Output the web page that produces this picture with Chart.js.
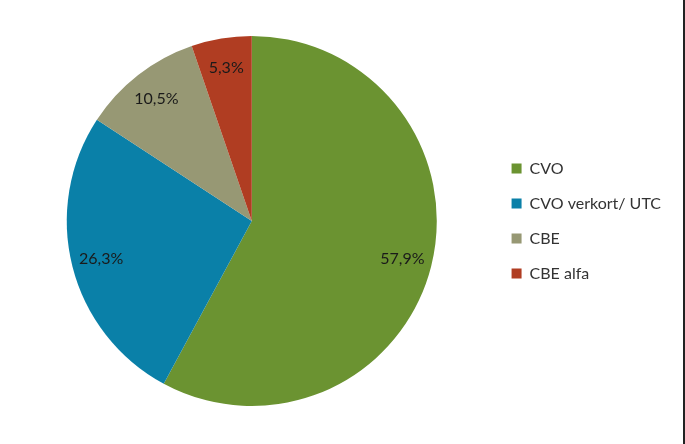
<!DOCTYPE html>
<html>
<head>
<meta charset="utf-8">
<script src="https://cdn.jsdelivr.net/npm/chart.js@4"></script>
<style>
  html, body { margin: 0; padding: 0; background: #fff; }
  #wrap { width: 685px; height: 444px; box-sizing: border-box; border-right: 2px solid #222; }
</style>
</head>
<body>
<div id="wrap"><canvas id="pie" width="683" height="444"></canvas></div>
<script>
// categories and values (counts out of 19)
const categories = ["CVO", "CVO verkort/ UTC", "CBE", "CBE alfa"];
const counts = [11, 5, 2, 1];
const colours = ["#6b9331", "#0a80a8", "#979874", "#b03d22"];

const total = counts.reduce((a, b) => a + b, 0);

// percentage labels inside each slice
const sliceLabels = {
  id: "sliceLabels",
  afterDatasetsDraw(chart) {
    const ctx = chart.ctx;
    const meta = chart.getDatasetMeta(0);
    ctx.save();
    ctx.font = "16px Lato";
    ctx.fillStyle = "#1a1a1a";
    ctx.textAlign = "center";
    ctx.textBaseline = "middle";
    meta.data.forEach((arc, i) => {
      const p = arc.getProps(["x", "y", "startAngle", "endAngle", "outerRadius"], true);
      const mid = (p.startAngle + p.endAngle) / 2;
      const r = p.outerRadius * 0.84;
      const txt = (counts[i] / total * 100).toFixed(1).replace(".", ",") + "%";
      ctx.fillText(txt, p.x + Math.cos(mid) * r, p.y + Math.sin(mid) * r);
    });
    ctx.restore();
  }
};

const context = document.getElementById("pie").getContext("2d");
const pie = new Chart(context, {
  type: "pie",
  data: {
    labels: categories,
    datasets: [{
      data: counts,
      backgroundColor: colours,
      borderWidth: 0
    }]
  },
  options: {
    responsive: false,
    animation: false,
    layout: { padding: { left: 11, top: 36, bottom: 38, right: 12 } },
    plugins: {
      tooltip: { enabled: false },
      legend: {
        position: "right",
        labels: {
          boxWidth: 10,
          boxHeight: 10,
          padding: 19,
          color: "#333",
          font: { family: "Lato", size: 16 }
        }
      }
    }
  },
  plugins: [sliceLabels]
});
</script>
</body>
</html>
